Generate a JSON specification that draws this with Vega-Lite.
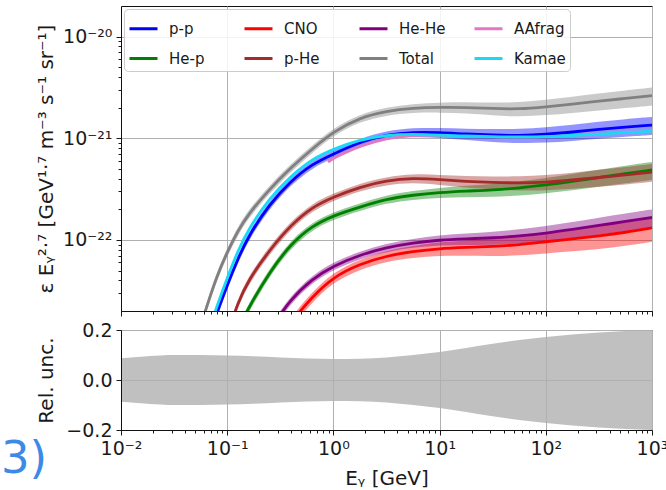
{
  "$schema": "https://vega.github.io/schema/vega-lite/v6.json",
  "background": "white",
  "padding": {"left": 0, "top": 5, "right": 5, "bottom": 0},
  "spacing": 3,
  "resolve": {"scale": {"color": "independent", "fill": "independent"}, "legend": {"color": "independent", "fill": "independent"}},
  "config": {
    "font": "DejaVu Sans",
    "view": {"stroke": "#111111", "strokeWidth": 1},
    "axis": {
      "labelFontSize": 19, "labelColor": "#1a1a1a", "titleFontSize": 20, "titleFontWeight": "normal",
      "titleColor": "#1a1a1a", "tickColor": "#1a1a1a", "domainColor": "#111111", "gridColor": "#b0b0b0",
      "gridWidth": 1, "labelPadding": 4, "labelOverlap": false, "labelFlush": false
    },
    "legend": {
      "labelFontSize": 15, "labelColor": "#1a1a1a", "symbolType": "stroke", "symbolStrokeWidth": 3,
      "symbolSize": 784, "labelOffset": 10, "columnPadding": 17, "rowPadding": 6, "padding": 4,
      "gridAlign": "all", "strokeColor": "#cccccc", "fillColor": "rgba(255,255,255,0.85)", "cornerRadius": 4
    }
  },
  "datasets": {
    "curves": [
      {"s":"AAfrag","E":0.891,"v":5.83e-22},
      {"s":"AAfrag","E":1,"v":6.38e-22},
      {"s":"AAfrag","E":1.334,"v":7.31e-22},
      {"s":"AAfrag","E":1.778,"v":8.38e-22},
      {"s":"AAfrag","E":3.162,"v":1.005e-21},
      {"s":"AAfrag","E":5.623,"v":1.08e-21},
      {"s":"AAfrag","E":10,"v":1.074e-21},
      {"s":"AAfrag","E":17.78,"v":1.052e-21},
      {"s":"AAfrag","E":31.62,"v":1.035e-21},
      {"s":"AAfrag","E":56.23,"v":1.028e-21},
      {"s":"AAfrag","E":100,"v":1.035e-21},
      {"s":"AAfrag","E":177.8,"v":1.064e-21},
      {"s":"AAfrag","E":316.2,"v":1.099e-21},
      {"s":"AAfrag","E":562.3,"v":1.138e-21},
      {"s":"AAfrag","E":1000,"v":1.178e-21},

      {"s":"p-p","E":0.0501,"v":3.98e-24,"lo":3.58e-24,"hi":4.38e-24},
      {"s":"p-p","E":0.0631,"v":9.31e-24,"lo":8.38e-24,"hi":1.024e-23},
      {"s":"p-p","E":0.0794,"v":1.875e-23,"lo":1.689e-23,"hi":2.061e-23},
      {"s":"p-p","E":0.1,"v":3.614e-23,"lo":3.26e-23,"hi":3.968e-23},
      {"s":"p-p","E":0.1259,"v":6.5e-23,"lo":5.87e-23,"hi":7.13e-23},
      {"s":"p-p","E":0.1585,"v":1.094e-22,"lo":9.89e-23,"hi":1.199e-22},
      {"s":"p-p","E":0.2512,"v":2.259e-22,"lo":2.051e-22,"hi":2.467e-22},
      {"s":"p-p","E":0.3981,"v":3.802e-22,"lo":3.464e-22,"hi":4.14e-22},
      {"s":"p-p","E":0.631,"v":5.585e-22,"lo":5.105e-22,"hi":6.065e-22},
      {"s":"p-p","E":1,"v":6.998e-22,"lo":6.41e-22,"hi":7.586e-22},
      {"s":"p-p","E":1.778,"v":9.183e-22,"lo":8.402e-22,"hi":9.964e-22},
      {"s":"p-p","E":3.162,"v":1.086e-21,"lo":9.88e-22,"hi":1.184e-21},
      {"s":"p-p","E":5.623,"v":1.151e-21,"lo":1.036e-21,"hi":1.266e-21},
      {"s":"p-p","E":10,"v":1.138e-21,"lo":1.011e-21,"hi":1.265e-21},
      {"s":"p-p","E":17.78,"v":1.099e-21,"lo":9.58e-22,"hi":1.24e-21},
      {"s":"p-p","E":31.62,"v":1.074e-21,"lo":9.18e-22,"hi":1.23e-21},
      {"s":"p-p","E":56.23,"v":1.064e-21,"lo":8.94e-22,"hi":1.234e-21},
      {"s":"p-p","E":100,"v":1.091e-21,"lo":9.03e-22,"hi":1.279e-21},
      {"s":"p-p","E":177.8,"v":1.151e-21,"lo":9.41e-22,"hi":1.36e-21},
      {"s":"p-p","E":316.2,"v":1.222e-21,"lo":9.9e-22,"hi":1.454e-21},
      {"s":"p-p","E":562.3,"v":1.288e-21,"lo":1.036e-21,"hi":1.54e-21},
      {"s":"p-p","E":1000,"v":1.349e-21,"lo":1.079e-21,"hi":1.619e-21},

      {"s":"He-p","E":0.1,"v":6.607e-24,"lo":5.96e-24,"hi":7.25e-24},
      {"s":"He-p","E":0.1259,"v":1.306e-23,"lo":1.179e-23,"hi":1.433e-23},
      {"s":"He-p","E":0.1585,"v":2.148e-23,"lo":1.942e-23,"hi":2.354e-23},
      {"s":"He-p","E":0.2512,"v":4.853e-23,"lo":4.407e-23,"hi":5.299e-23},
      {"s":"He-p","E":0.3981,"v":9.141e-23,"lo":8.327e-23,"hi":9.955e-23},
      {"s":"He-p","E":0.631,"v":1.374e-22,"lo":1.256e-22,"hi":1.492e-22},
      {"s":"He-p","E":1,"v":1.738e-22,"lo":1.592e-22,"hi":1.884e-22},
      {"s":"He-p","E":1.778,"v":2.109e-22,"lo":1.93e-22,"hi":2.288e-22},
      {"s":"He-p","E":3.162,"v":2.529e-22,"lo":2.301e-22,"hi":2.757e-22},
      {"s":"He-p","E":5.623,"v":2.767e-22,"lo":2.49e-22,"hi":3.044e-22},
      {"s":"He-p","E":10,"v":2.931e-22,"lo":2.603e-22,"hi":3.259e-22},
      {"s":"He-p","E":17.78,"v":3.027e-22,"lo":2.64e-22,"hi":3.414e-22},
      {"s":"He-p","E":31.62,"v":3.097e-22,"lo":2.648e-22,"hi":3.546e-22},
      {"s":"He-p","E":56.23,"v":3.243e-22,"lo":2.724e-22,"hi":3.762e-22},
      {"s":"He-p","E":100,"v":3.467e-22,"lo":2.871e-22,"hi":4.063e-22},
      {"s":"He-p","E":177.8,"v":3.758e-22,"lo":3.074e-22,"hi":4.442e-22},
      {"s":"He-p","E":316.2,"v":4.111e-22,"lo":3.33e-22,"hi":4.892e-22},
      {"s":"He-p","E":562.3,"v":4.498e-22,"lo":3.616e-22,"hi":5.38e-22},
      {"s":"He-p","E":1000,"v":4.875e-22,"lo":3.9e-22,"hi":5.85e-22},

      {"s":"CNO","E":0.3162,"v":9.333e-24,"lo":8.19e-24,"hi":1.047e-23},
      {"s":"CNO","E":0.3981,"v":1.563e-23,"lo":1.375e-23,"hi":1.751e-23},
      {"s":"CNO","E":0.631,"v":2.754e-23,"lo":2.435e-23,"hi":3.073e-23},
      {"s":"CNO","E":1,"v":4.335e-23,"lo":3.845e-23,"hi":4.825e-23},
      {"s":"CNO","E":1.778,"v":5.808e-23,"lo":5.14e-23,"hi":6.476e-23},
      {"s":"CNO","E":3.162,"v":6.966e-23,"lo":6.116e-23,"hi":7.816e-23},
      {"s":"CNO","E":5.623,"v":7.709e-23,"lo":6.668e-23,"hi":8.75e-23},
      {"s":"CNO","E":10,"v":8.241e-23,"lo":6.997e-23,"hi":9.485e-23},
      {"s":"CNO","E":17.78,"v":8.433e-23,"lo":6.974e-23,"hi":9.892e-23},
      {"s":"CNO","E":31.62,"v":8.63e-23,"lo":6.939e-23,"hi":1.032e-22},
      {"s":"CNO","E":56.23,"v":8.933e-23,"lo":7.003e-23,"hi":1.086e-22},
      {"s":"CNO","E":100,"v":9.616e-23,"lo":7.385e-23,"hi":1.185e-22},
      {"s":"CNO","E":177.8,"v":1.023e-22,"lo":7.713e-23,"hi":1.275e-22},
      {"s":"CNO","E":316.2,"v":1.094e-22,"lo":8.128e-23,"hi":1.375e-22},
      {"s":"CNO","E":562.3,"v":1.186e-22,"lo":8.717e-23,"hi":1.5e-22},
      {"s":"CNO","E":1000,"v":1.312e-22,"lo":9.578e-23,"hi":1.666e-22},

      {"s":"p-He","E":0.0794,"v":5.284e-24,"lo":4.76e-24,"hi":5.81e-24},
      {"s":"p-He","E":0.1,"v":1.167e-23,"lo":1.053e-23,"hi":1.281e-23},
      {"s":"p-He","E":0.1259,"v":2.404e-23,"lo":2.171e-23,"hi":2.637e-23},
      {"s":"p-He","E":0.1585,"v":4.046e-23,"lo":3.658e-23,"hi":4.434e-23},
      {"s":"p-He","E":0.2512,"v":7.98e-23,"lo":7.246e-23,"hi":8.714e-23},
      {"s":"p-He","E":0.3981,"v":1.403e-22,"lo":1.278e-22,"hi":1.528e-22},
      {"s":"p-He","E":0.631,"v":2.109e-22,"lo":1.928e-22,"hi":2.29e-22},
      {"s":"p-He","E":1,"v":2.649e-22,"lo":2.427e-22,"hi":2.872e-22},
      {"s":"p-He","E":1.778,"v":3.319e-22,"lo":3.037e-22,"hi":3.601e-22},
      {"s":"p-He","E":3.162,"v":3.837e-22,"lo":3.492e-22,"hi":4.182e-22},
      {"s":"p-He","E":5.623,"v":4.064e-22,"lo":3.658e-22,"hi":4.47e-22},
      {"s":"p-He","E":10,"v":3.926e-22,"lo":3.486e-22,"hi":4.366e-22},
      {"s":"p-He","E":17.78,"v":3.758e-22,"lo":3.277e-22,"hi":4.239e-22},
      {"s":"p-He","E":31.62,"v":3.673e-22,"lo":3.14e-22,"hi":4.206e-22},
      {"s":"p-He","E":56.23,"v":3.631e-22,"lo":3.05e-22,"hi":4.212e-22},
      {"s":"p-He","E":100,"v":3.69e-22,"lo":3.055e-22,"hi":4.325e-22},
      {"s":"p-He","E":177.8,"v":3.882e-22,"lo":3.175e-22,"hi":4.589e-22},
      {"s":"p-He","E":316.2,"v":4.111e-22,"lo":3.33e-22,"hi":4.892e-22},
      {"s":"p-He","E":562.3,"v":4.355e-22,"lo":3.501e-22,"hi":5.209e-22},
      {"s":"p-He","E":1000,"v":4.656e-22,"lo":3.725e-22,"hi":5.587e-22},

      {"s":"He-He","E":0.1995,"v":7.413e-24,"lo":6.72e-24,"hi":8.11e-24},
      {"s":"He-He","E":0.2512,"v":1.306e-23,"lo":1.186e-23,"hi":1.426e-23},
      {"s":"He-He","E":0.3981,"v":2.63e-23,"lo":2.396e-23,"hi":2.864e-23},
      {"s":"He-He","E":0.631,"v":4.14e-23,"lo":3.784e-23,"hi":4.496e-23},
      {"s":"He-He","E":1,"v":5.559e-23,"lo":5.092e-23,"hi":6.026e-23},
      {"s":"He-He","E":1.778,"v":7.129e-23,"lo":6.523e-23,"hi":7.735e-23},
      {"s":"He-He","E":3.162,"v":8.433e-23,"lo":7.674e-23,"hi":9.192e-23},
      {"s":"He-He","E":5.623,"v":9.354e-23,"lo":8.419e-23,"hi":1.029e-22},
      {"s":"He-He","E":10,"v":1e-22,"lo":8.88e-23,"hi":1.112e-22},
      {"s":"He-He","E":17.78,"v":1.023e-22,"lo":8.92e-23,"hi":1.154e-22},
      {"s":"He-He","E":31.62,"v":1.047e-22,"lo":8.95e-23,"hi":1.199e-22},
      {"s":"He-He","E":56.23,"v":1.094e-22,"lo":9.19e-23,"hi":1.269e-22},
      {"s":"He-He","E":100,"v":1.164e-22,"lo":9.64e-23,"hi":1.364e-22},
      {"s":"He-He","E":177.8,"v":1.268e-22,"lo":1.037e-22,"hi":1.499e-22},
      {"s":"He-He","E":316.2,"v":1.387e-22,"lo":1.123e-22,"hi":1.651e-22},
      {"s":"He-He","E":562.3,"v":1.521e-22,"lo":1.223e-22,"hi":1.819e-22},
      {"s":"He-He","E":1000,"v":1.663e-22,"lo":1.33e-22,"hi":1.996e-22},

      {"s":"Total","E":0.0501,"v":9.73e-24,"lo":8.76e-24,"hi":1.07e-23},
      {"s":"Total","E":0.0631,"v":2.1e-23,"lo":1.89e-23,"hi":2.31e-23},
      {"s":"Total","E":0.0794,"v":4.34e-23,"lo":3.91e-23,"hi":4.77e-23},
      {"s":"Total","E":0.1,"v":7.62e-23,"lo":6.87e-23,"hi":8.37e-23},
      {"s":"Total","E":0.1259,"v":1.225e-22,"lo":1.106e-22,"hi":1.344e-22},
      {"s":"Total","E":0.1585,"v":1.8e-22,"lo":1.627e-22,"hi":1.973e-22},
      {"s":"Total","E":0.2512,"v":3.17e-22,"lo":2.878e-22,"hi":3.462e-22},
      {"s":"Total","E":0.3981,"v":5.15e-22,"lo":4.692e-22,"hi":5.608e-22},
      {"s":"Total","E":0.631,"v":7.83e-22,"lo":7.157e-22,"hi":8.503e-22},
      {"s":"Total","E":1,"v":1.164e-21,"lo":1.066e-21,"hi":1.262e-21},
      {"s":"Total","E":1.778,"v":1.596e-21,"lo":1.46e-21,"hi":1.732e-21},
      {"s":"Total","E":3.162,"v":1.849e-21,"lo":1.683e-21,"hi":2.015e-21},
      {"s":"Total","E":5.623,"v":1.982e-21,"lo":1.784e-21,"hi":2.18e-21},
      {"s":"Total","E":10,"v":2.023e-21,"lo":1.796e-21,"hi":2.25e-21},
      {"s":"Total","E":17.78,"v":2.014e-21,"lo":1.756e-21,"hi":2.272e-21},
      {"s":"Total","E":31.62,"v":1.959e-21,"lo":1.675e-21,"hi":2.243e-21},
      {"s":"Total","E":56.23,"v":1.936e-21,"lo":1.626e-21,"hi":2.246e-21},
      {"s":"Total","E":100,"v":2.037e-21,"lo":1.687e-21,"hi":2.387e-21},
      {"s":"Total","E":177.8,"v":2.168e-21,"lo":1.773e-21,"hi":2.563e-21},
      {"s":"Total","E":316.2,"v":2.317e-21,"lo":1.877e-21,"hi":2.757e-21},
      {"s":"Total","E":562.3,"v":2.466e-21,"lo":1.983e-21,"hi":2.949e-21},
      {"s":"Total","E":1000,"v":2.624e-21,"lo":2.099e-21,"hi":3.149e-21},

      {"s":"Kamae","E":0.0501,"v":4.721e-24},
      {"s":"Kamae","E":0.0631,"v":1.042e-23},
      {"s":"Kamae","E":0.0794,"v":2.198e-23},
      {"s":"Kamae","E":0.1,"v":4.236e-23},
      {"s":"Kamae","E":0.1259,"v":7.798e-23},
      {"s":"Kamae","E":0.1585,"v":1.282e-22},
      {"s":"Kamae","E":0.2512,"v":2.588e-22},
      {"s":"Kamae","E":0.3981,"v":4.256e-22},
      {"s":"Kamae","E":0.631,"v":6.252e-22},
      {"s":"Kamae","E":1,"v":7.834e-22},
      {"s":"Kamae","E":1.778,"v":9.705e-22},
      {"s":"Kamae","E":3.162,"v":1.074e-21},
      {"s":"Kamae","E":5.623,"v":1.099e-21},
      {"s":"Kamae","E":10,"v":1.074e-21},
      {"s":"Kamae","E":17.78,"v":1.052e-21},
      {"s":"Kamae","E":31.62,"v":1.035e-21},
      {"s":"Kamae","E":56.23,"v":1.028e-21},
      {"s":"Kamae","E":100,"v":1.035e-21},
      {"s":"Kamae","E":177.8,"v":1.064e-21},
      {"s":"Kamae","E":316.2,"v":1.099e-21},
      {"s":"Kamae","E":562.3,"v":1.138e-21},
      {"s":"Kamae","E":1000,"v":1.178e-21}
    ],
    "unc": [
      {"E":0.01,"lo":-0.087,"hi":0.087},
      {"E":0.01778,"lo":-0.095,"hi":0.095},
      {"E":0.03162,"lo":-0.1,"hi":0.1},
      {"E":0.05623,"lo":-0.1,"hi":0.1},
      {"E":0.1,"lo":-0.098,"hi":0.098},
      {"E":0.1778,"lo":-0.095,"hi":0.095},
      {"E":0.3162,"lo":-0.09,"hi":0.09},
      {"E":0.5623,"lo":-0.086,"hi":0.086},
      {"E":1,"lo":-0.084,"hi":0.084},
      {"E":1.778,"lo":-0.085,"hi":0.085},
      {"E":3.162,"lo":-0.09,"hi":0.09},
      {"E":5.623,"lo":-0.1,"hi":0.1},
      {"E":10,"lo":-0.112,"hi":0.112},
      {"E":17.78,"lo":-0.128,"hi":0.128},
      {"E":31.62,"lo":-0.145,"hi":0.145},
      {"E":56.23,"lo":-0.16,"hi":0.16},
      {"E":100,"lo":-0.172,"hi":0.172},
      {"E":177.8,"lo":-0.182,"hi":0.182},
      {"E":316.2,"lo":-0.19,"hi":0.19},
      {"E":562.3,"lo":-0.196,"hi":0.196},
      {"E":1000,"lo":-0.2,"hi":0.2}
    ]
  },
  "vconcat": [
    {
      "width": 531,
      "height": 305,
      "data": {"name": "curves"},
      "encoding": {
        "x": {
          "field": "E", "type": "quantitative",
          "scale": {"type": "log", "domain": [0.01, 1000]},
          "axis": {
            "values": [0.01,0.02,0.03,0.04,0.05,0.06,0.07,0.08,0.09,0.1,0.2,0.3,0.4,0.5,0.6,0.7,0.8,0.9,1,2,3,4,5,6,7,8,9,10,20,30,40,50,60,70,80,90,100,200,300,400,500,600,700,800,900,1000],
            "labels": false, "title": null,
            "tickSize": {"condition": {"test": "indexof([0.01,0.1,1,10,100,1000], datum.value) >= 0", "value": 5}, "value": 3},
            "gridOpacity": {"condition": {"test": "indexof([0.01,0.1,1,10,100,1000], datum.value) >= 0", "value": 1}, "value": 0}
          }
        },
        "y": {
          "field": "v", "type": "quantitative",
          "scale": {"type": "log", "domain": [2e-23, 2e-20]},
          "axis": {
            "title": "ε Eᵧ²·⁷ [GeV¹·⁷ m⁻³ s⁻¹ sr⁻¹]", "titlePadding": 6,
            "values": [3e-23,4e-23,5e-23,6e-23,7e-23,8e-23,9e-23,1e-22,2e-22,3e-22,4e-22,5e-22,6e-22,7e-22,8e-22,9e-22,1e-21,2e-21,3e-21,4e-21,5e-21,6e-21,7e-21,8e-21,9e-21,1e-20],
            "labelExpr": "datum.value == 1e-22 ? '10⁻²²' : datum.value == 1e-21 ? '10⁻²¹' : datum.value == 1e-20 ? '10⁻²⁰' : ''",
            "tickSize": {"condition": {"test": "indexof([1e-22,1e-21,1e-20], datum.value) >= 0", "value": 5}, "value": 3},
            "gridOpacity": {"condition": {"test": "indexof([1e-22,1e-21,1e-20], datum.value) >= 0", "value": 1}, "value": 0}
          }
        }
      },
      "layer": [
        {
          "mark": {"type": "area", "clip": true, "opacity": 0.42, "interpolate": "basis"},
          "transform": [{"filter": "isValid(datum.lo)"}],
          "encoding": {
            "y": {"field": "lo", "type": "quantitative", "stack": null},
            "y2": {"field": "hi"},
            "fill": {
              "field": "s", "type": "nominal", "legend": null,
              "scale": {
                "domain": ["p-p","CNO","He-He","He-p","p-He","Total"],
                "range": ["#0000ff","#ff0000","#800080","#008000","#a52a2a","#808080"]
              }
            }
          }
        },
        {
          "mark": {"type": "line", "clip": true, "strokeWidth": 2.8, "interpolate": "basis"},
          "encoding": {
            "color": {
              "field": "s", "type": "nominal",
              "scale": {
                "domain": ["p-p","He-p","CNO","p-He","He-He","Total","AAfrag","Kamae"],
                "range": ["#0000ff","#008000","#ff0000","#a52a2a","#800080","#808080","#e377c2","#19d9f5"]
              },
              "legend": {"orient": "top-left", "offset": 3, "columns": 4, "title": null}
            }
          }
        }
      ]
    },
    {
      "width": 531,
      "height": 100,
      "layer": [
        {
          "data": {"name": "unc"},
          "mark": {"type": "area", "color": "#c0c0c0", "interpolate": "monotone"},
          "encoding": {
            "x": {
              "field": "E", "type": "quantitative",
              "scale": {"type": "log", "domain": [0.01, 1000]},
              "axis": {
                "zindex": 1,
                "values": [0.01,0.02,0.03,0.04,0.05,0.06,0.07,0.08,0.09,0.1,0.2,0.3,0.4,0.5,0.6,0.7,0.8,0.9,1,2,3,4,5,6,7,8,9,10,20,30,40,50,60,70,80,90,100,200,300,400,500,600,700,800,900,1000],
                "title": "Eᵧ [GeV]", "titlePadding": 10,
                "labelExpr": "datum.value == 0.01 ? '10⁻²' : datum.value == 0.1 ? '10⁻¹' : datum.value == 1 ? '10⁰' : datum.value == 10 ? '10¹' : datum.value == 100 ? '10²' : datum.value == 1000 ? '10³' : ''",
                "tickSize": {"condition": {"test": "indexof([0.01,0.1,1,10,100,1000], datum.value) >= 0", "value": 5}, "value": 3},
                "gridOpacity": {"condition": {"test": "indexof([0.01,0.1,1,10,100,1000], datum.value) >= 0", "value": 1}, "value": 0}
              }
            },
            "y": {
              "field": "lo", "type": "quantitative", "stack": null,
              "scale": {"domain": [-0.2, 0.2]},
              "axis": {
                "zindex": 1,
                "title": "Rel. unc.", "titlePadding": 9,
                "values": [-0.2, -0.1, 0, 0.1, 0.2],
                "labelExpr": "replace(format(datum.value, '.1f'), '-', '−')",
                "tickSize": 5
              }
            },
            "y2": {"field": "hi"}
          }
        },
        {
          "data": {"values": [{}]},
          "mark": {"type": "text", "text": "3)", "align": "left", "baseline": "middle", "fontSize": 45, "color": "#3d8ae6"},
          "encoding": {
            "x": {"datum": 0.000741, "type": "quantitative", "scale": {"type": "log", "domain": [0.01, 1000]}},
            "y": {"datum": -0.316, "type": "quantitative", "scale": {"domain": [-0.2, 0.2]}}
          }
        }
      ]
    }
  ]
}
